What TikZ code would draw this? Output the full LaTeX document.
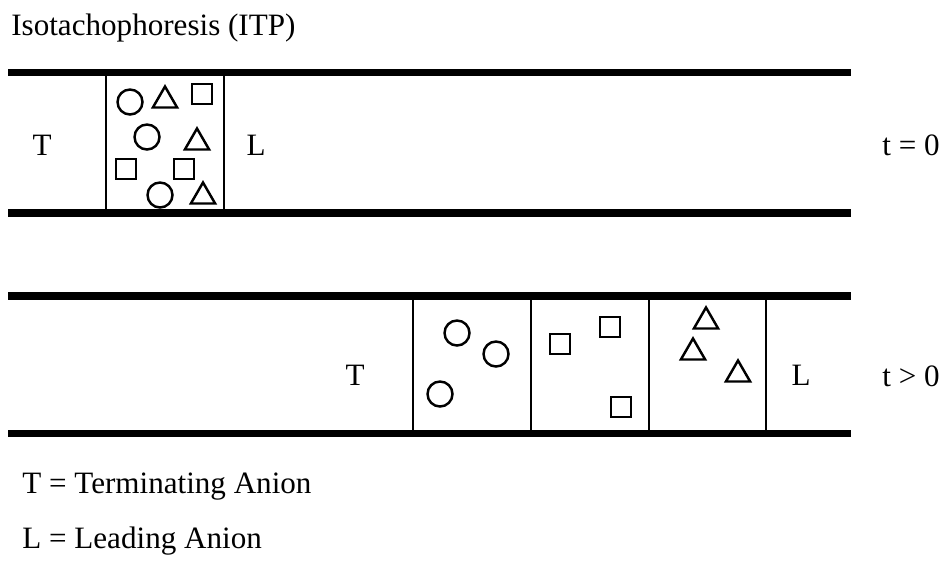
\documentclass[tikz,border=0pt]{standalone}
\usepackage{fontspec}
\setmainfont{Liberation Serif}
\usetikzlibrary{shapes.geometric}
\tikzset{
  wall/.style={line width=4pt},
  zone/.style={line width=1.2pt},
  ion/.style={draw,line width=1.4pt,inner sep=0pt},
  ionc/.style={ion,circle,minimum size=0.5cm},
  ions/.style={ion,rectangle,minimum size=0.4cm},
  iont/.style={ion,regular polygon,regular polygon sides=3,minimum size=0.56cm},
  lbl/.style={font=\fontsize{17.7}{21}\selectfont,inner sep=0pt}
}

\begin{document}
\begin{tikzpicture}[x=0.02cm,y=-0.02cm]
\useasboundingbox (0,0) rectangle (952,562);
\node[lbl,anchor=base west] (title) at (11,35) {Isotachophoresis (ITP)};
% t = 0
\draw[wall] (8,72.5) -- (851,72.5);
\draw[wall] (8,213) -- (851,213);
\draw[zone] (106,72.5) -- (106,213);
\draw[zone] (224,72.5) -- (224,213);
\node[ionc] (tc1) at (130,102) {};
\node[ionc] (tc2) at (147,137) {};
\node[ionc] (tc3) at (160,195) {};
\node[ions] (ts1) at (202,94) {};
\node[ions] (ts2) at (126,169) {};
\node[ions] (ts3) at (184,169) {};
\node[iont] (tt1) at (165,100.5) {};
\node[iont] (tt2) at (197,142.5) {};
\node[iont] (tt3) at (203,196.5) {};
\node[lbl,anchor=base] (tT) at (42,155) {T};
\node[lbl,anchor=base] (tL) at (256,155) {L};
\node[lbl,anchor=base] (t0) at (911,155) {t = 0};
% t > 0
\draw[wall] (8,296) -- (851,296);
\draw[wall] (8,433.5) -- (851,433.5);
\foreach \x in {413,531,649,766}
  \draw[zone] (\x,296) -- (\x,433.5);
\node[ionc] (bc1) at (457,333) {};
\node[ionc] (bc2) at (496,354) {};
\node[ionc] (bc3) at (440,394) {};
\node[ions] (bs1) at (560,344) {};
\node[ions] (bs2) at (610,327) {};
\node[ions] (bs3) at (621,407) {};
\node[iont] (bt1) at (706,321.5) {};
\node[iont] (bt2) at (693,352.5) {};
\node[iont] (bt3) at (738,374.5) {};
\node[lbl,anchor=base] (bT) at (355,385) {T};
\node[lbl,anchor=base] (bL) at (801,385) {L};
\node[lbl,anchor=base] (t1) at (911,386) {t > 0};
% legend
\node[lbl,anchor=base west] (keyT) at (22,493) {T = Terminating Anion};
\node[lbl,anchor=base west] (keyL) at (22,548) {L = Leading Anion};
\end{tikzpicture}
\end{document}
